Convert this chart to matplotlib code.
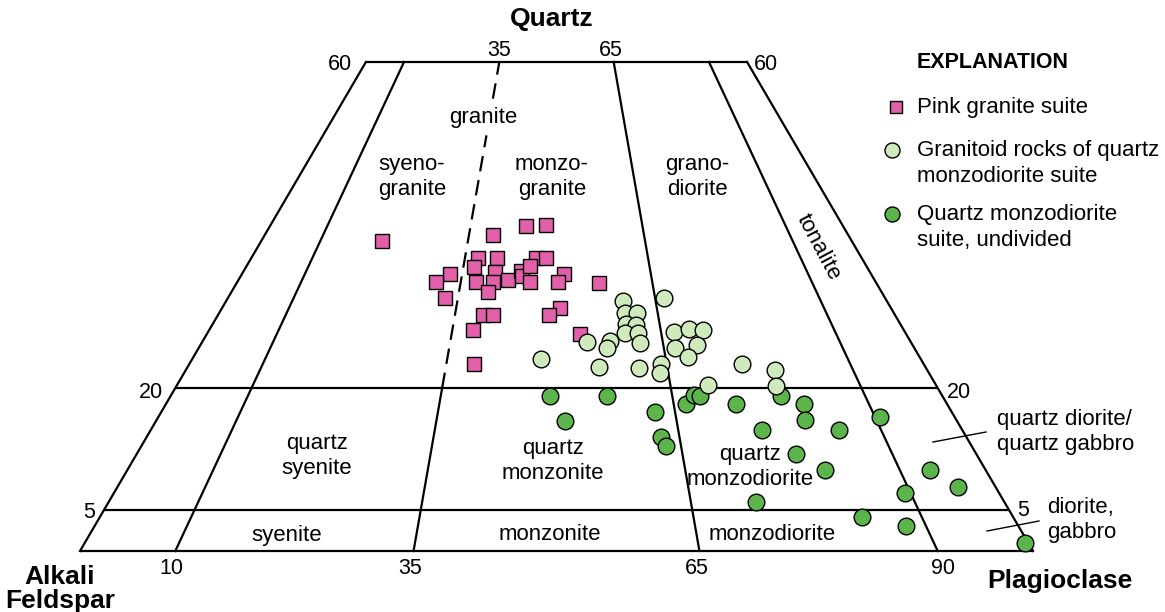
import matplotlib
matplotlib.use("Agg")
import matplotlib.pyplot as plt
import numpy as np

plt.rcParams['font.family'] = ['Liberation Sans', 'DejaVu Sans']

# QAP values: quartz (%) and plagioclase ratio 100*P/(A+P)
pink_q = [38.0, 39.9, 40.0, 38.8, 36.0, 36.0, 34.9, 34.0, 33.0, 31.1,
          33.0, 34.2, 33.0, 31.8, 33.3, 34.3, 33.8, 35.9, 35.9, 35.0,
          33.0, 34.0, 33.0, 32.9, 29.0, 28.9, 27.1, 23.0, 29.8, 29.0, 26.6]
pink_p = [20.5, 44.7, 48.1, 39.1, 37.2, 40.2, 36.7, 33.1, 31.1, 33.0,
          37.4, 40.2, 40.0, 39.4, 42.4, 44.3, 44.6, 46.6, 48.2, 45.8,
          45.9, 51.2, 50.3, 56.6, 39.2, 40.6, 38.0, 38.7, 50.5, 48.9, 53.3]

light_q = [23.6, 30.7, 29.2, 29.2, 27.8, 27.7, 26.8, 26.7, 25.5, 25.8,
           24.9, 25.7, 22.6, 22.5, 22.9, 21.9, 31.0, 26.9, 27.2, 27.1,
           24.9, 25.3, 23.8, 23.0, 22.2, 20.2, 20.4]
light_p = [47.9, 60.0, 60.2, 61.9, 60.1, 61.5, 59.8, 61.6, 61.7, 57.6,
           57.0, 54.3, 55.8, 61.2, 64.2, 63.9, 66.4, 66.8, 69.1, 71.1,
           66.6, 69.8, 68.1, 75.3, 79.5, 78.8, 70.0]

dark_q = [19.0, 19.0, 15.9, 17.0, 14.0, 12.9, 18.0, 19.2, 19.0, 18.0,
          14.9, 19.0, 18.0, 16.1, 14.9, 16.4, 11.9, 9.9, 6.0, 4.2,
          7.1, 3.1, 10.0, 7.9, 1.0]
dark_p = [49.2, 56.6, 51.1, 62.5, 62.8, 63.2, 66.6, 67.9, 68.6, 73.0,
          75.3, 79.1, 81.7, 81.1, 84.8, 90.6, 78.5, 81.3, 72.3, 83.5,
          89.4, 87.8, 93.6, 95.7, 99.7]

# field boundaries
q_lines = [0, 5, 20, 60]
p_lines = [0, 10, 65, 90, 100]

PINK = '#E25FAA'
LIGHT = '#CFEBBD'
DARK = '#5BB54B'

W, H = 1165, 612
fig = plt.figure(figsize=(W / 100, H / 100), dpi=100)
ax = fig.add_axes([0, 0, 1, 1])
ax.set_xlim(-80 / 953, 1085 / 953)
ax.set_ylim(-61 / 815, 551 / 815)
ax.axis('off')


def tern(q, p):
    q = np.asarray(q, dtype=float) / 100.0
    p = np.asarray(p, dtype=float) / 100.0
    return p * (1 - q) + 0.5 * q, q


lw = 1.6
for q in q_lines:
    x, y = tern([q, q], [0, 100])
    ax.plot(x, y, color='black', lw=lw, solid_capstyle='butt', zorder=2)
for p in p_lines:
    x, y = tern([0, 60], [p, p])
    ax.plot(x, y, color='black', lw=lw, zorder=2)
x, y = tern([0, 20], [35, 35])
ax.plot(x, y, color='black', lw=lw, zorder=2)
for seg in ([20, 51], [55.5, 60]):
    x, y = tern(seg, [35, 35])
    ax.plot(x, y, color='black', lw=lw, dashes=(7, 4), zorder=2)

# data
x, y = tern(dark_q, dark_p)
ax.plot(x, y, 'o', ms=12, mfc=DARK, mec='black', mew=1.0, ls='none', zorder=3, clip_on=False)
x, y = tern(pink_q, pink_p)
ax.plot(x, y, 's', ms=9.4, mfc=PINK, mec='black', mew=1.0, ls='none', zorder=4, clip_on=False)
x, y = tern(light_q, light_p)
ax.plot(x, y, 'o', ms=12, mfc=LIGHT, mec='black', mew=1.0, ls='none', zorder=5, clip_on=False)


def label(px, py, s, size=16, **kw):
    kw.setdefault('ha', 'center')
    kw.setdefault('va', 'center')
    kw.setdefault('linespacing', 1.3)
    fig.text(px / W, 1 - py / H, s, fontsize=size, **kw)


# corner titles
label(552, 19, 'Quartz', size=19, weight='bold')
label(60, 589, 'Alkali\nFeldspar', size=19, weight='bold', linespacing=1.05)
label(1060, 581, 'Plagioclase', size=19, weight='bold')

# scale numbers
for px, py, s in [(340, 64, '60'), (499, 51, '35'), (611, 51, '65'), (766, 64, '60'),
                  (151, 393, '20'), (89, 512, '5'), (959, 392, '20'), (1023, 510, '5'),
                  (171, 568, '10'), (410, 568, '35'), (697, 568, '65'), (943, 568, '90')]:
    label(px, py, s, size=15.5)

# field names
label(483, 118, 'granite')
label(412, 177, 'syeno-\ngranite')
label(552, 177, 'monzo-\ngranite')
label(697, 177, 'grano-\ndiorite')
label(818, 247, 'tonalite', rotation=-62, rotation_mode='anchor')
label(317, 456, 'quartz\nsyenite')
label(553, 461, 'quartz\nmonzonite')
label(750, 467, 'quartz\nmonzodiorite')
label(287, 535, 'syenite')
label(550, 535, 'monzonite')
label(772, 535, 'monzodiorite')
label(997, 432, 'quartz diorite/\nquartz gabbro', ha='left')
label(1047, 520, 'diorite,\ngabbro', ha='left')

# leader lines
for (x0, y0), (x1, y1) in [((933, 442), (986, 432)), ((987, 531), (1039, 521))]:
    fig.add_artist(plt.Line2D([x0 / W, x1 / W], [1 - y0 / H, 1 - y1 / H],
                              transform=fig.transFigure, color='black', lw=1.0))

# explanation
label(917, 63, 'EXPLANATION', size=15.5, weight='bold', ha='left')
legend_items = [('s', 8.4, PINK, 896, 107, 'Pink granite suite'),
                ('o', 10.8, LIGHT, 892, 150, 'Granitoid rocks of quartz\nmonzodiorite suite'),
                ('o', 10.8, DARK, 892, 214, 'Quartz monzodiorite\nsuite, undivided')]
for m, ms, c, mx, my, s in legend_items:
    fig.add_artist(plt.Line2D([mx / W], [1 - my / H], transform=fig.transFigure, marker=m,
                              ms=ms, mfc=c, mec='black', mew=1.0, ls='none'))
    fig.text(917 / W, 1 - (my - 10) / H, s, fontsize=16, ha='left', va='top', linespacing=1.3)

fig.savefig('out.png', dpi=100)
